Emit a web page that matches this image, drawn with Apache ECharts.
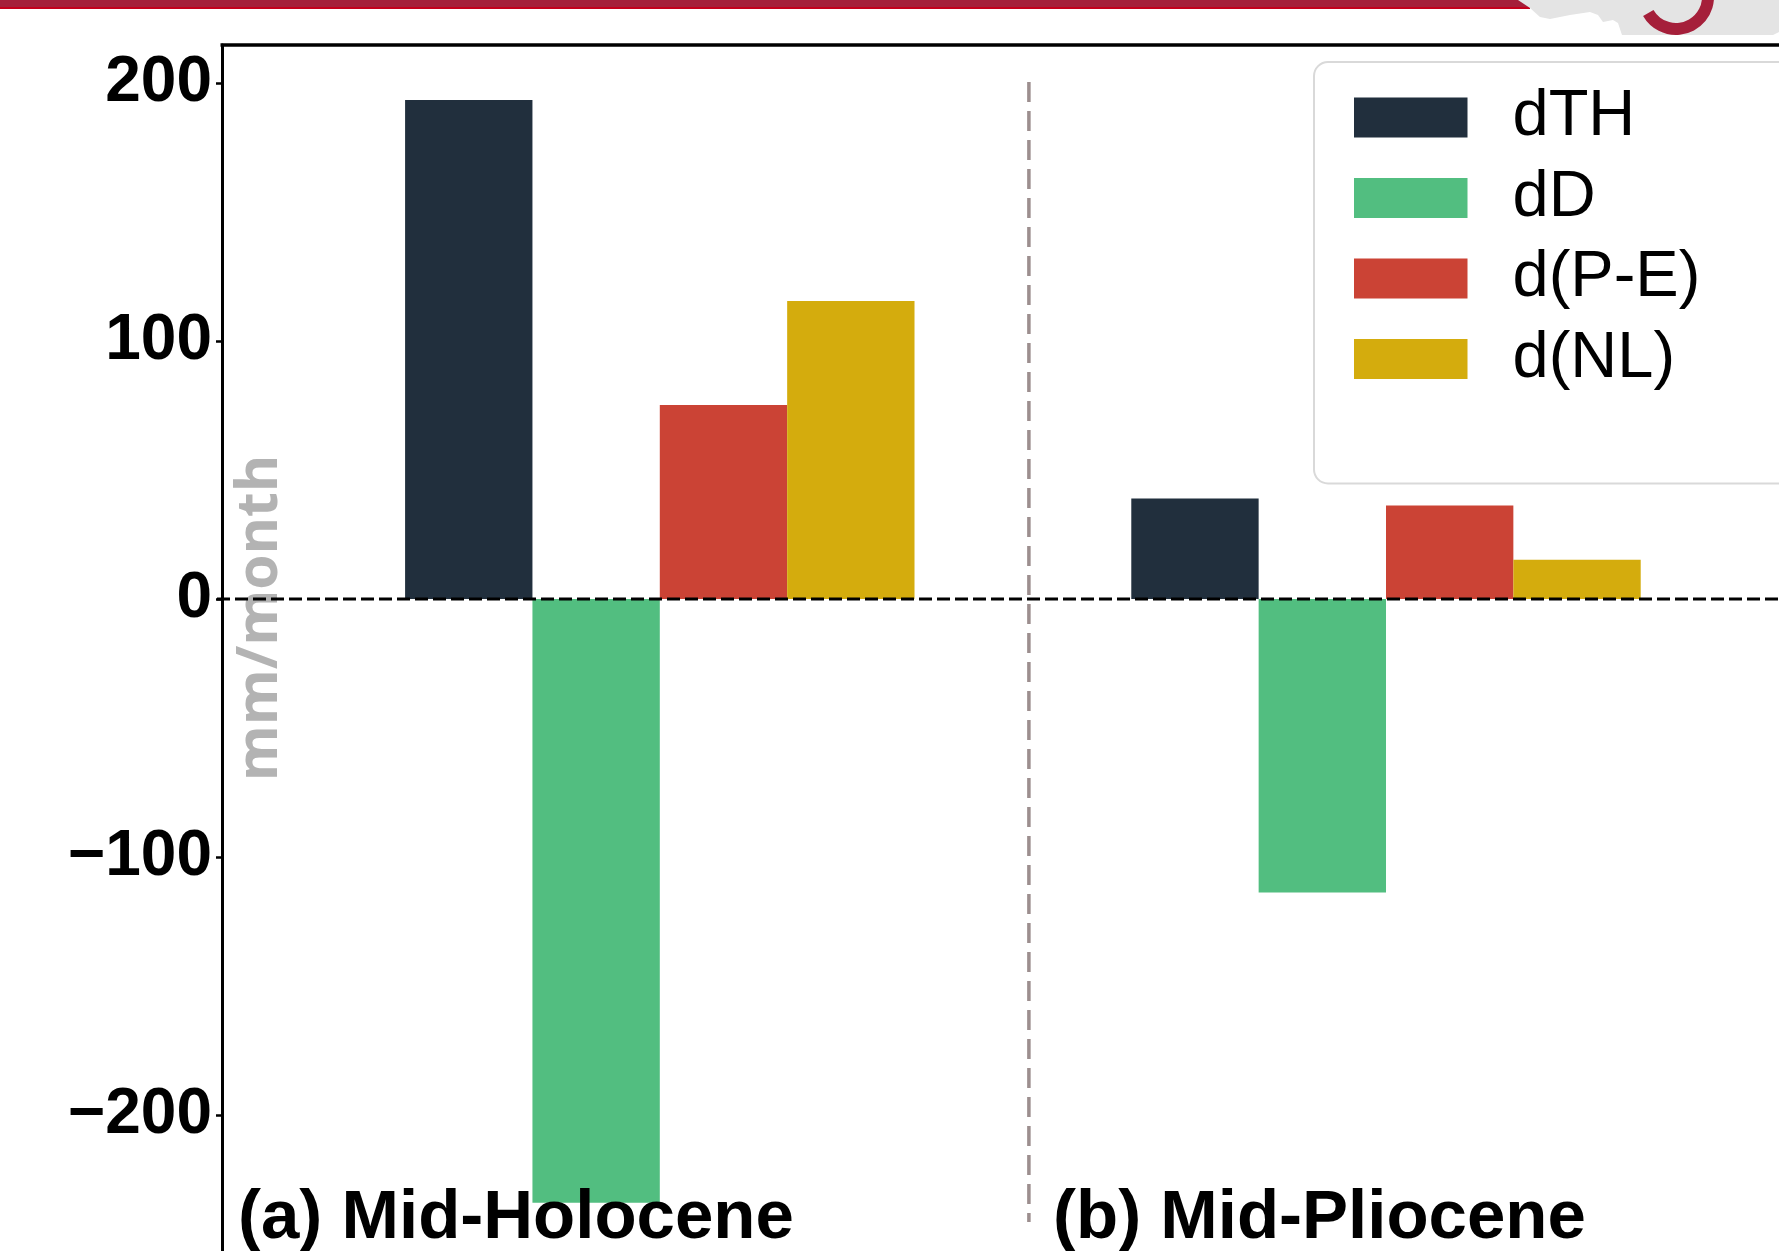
<!DOCTYPE html>
<html><head><meta charset="utf-8">
<script src="https://cdn.jsdelivr.net/npm/echarts@6/dist/echarts.min.js"></script>
<style>html,body{margin:0;padding:0;background:#fff;overflow:hidden}#c{width:1779px;height:1251px}</style>
</head><body><div id="c"></div>
<script>
// ---- data ----
const categories = ['(a) Mid-Holocene', '(b) Mid-Pliocene'];
const seriesNames = ['dTH', 'dD', 'd(P-E)', 'd(NL)'];
const dTH = [193.4, 38.9];
const dD = [-234.0, -113.8];
const dPE = [75.2, 36.2];
const dNL = [115.5, 15.2];
const yTicks = [-200, -100, 0, 100, 200];
const yMin = -252.7, yMax = 214.7;
const yName = 'mm/month';

const colors = ['#212F3D', '#52BE80', '#CB4335', '#D4AC0D'];
const seriesData = [dTH, dD, dPE, dNL];

const chart = echarts.init(document.getElementById('c'), null, {renderer: 'canvas'});
const GRID_LEFT = 296.7, AXIS_X = 222, GRID_TOP = 45;

chart.setOption({
  animation: false,
  backgroundColor: '#fff',
  grid: {left: GRID_LEFT, right: 29.9, top: GRID_TOP, bottom: 0, containLabel: false},
  xAxis: {
    type: 'category', data: categories,
    axisLine: {show: false}, axisTick: {show: false}, axisLabel: {show: false}, splitLine: {show: false}
  },
  yAxis: {
    type: 'value', min: yMin, max: yMax, offset: GRID_LEFT - AXIS_X,
    axisLine: {show: true, lineStyle: {color: '#000', width: 3}},
    axisTick: {show: true, length: 6, lineStyle: {color: '#000', width: 2.5}, customValues: yTicks},
    axisLabel: {
      customValues: yTicks, margin: 10, color: '#000', fontSize: 64, fontWeight: 'bold',
      fontFamily: '"Liberation Sans", Arial, sans-serif',
      formatter: v => (v < 0 ? '\u2212' + Math.abs(v) : String(v))
    },
    splitLine: {show: false}
  },
  legend: {
    data: seriesNames, orient: 'vertical', left: 1314, top: 62,
    itemWidth: 113.5, itemHeight: 40, itemGap: 15.5, icon: 'rect',
    padding: [23, 160, 92, 40],
    backgroundColor: '#fff', borderColor: '#d9d9d9', borderWidth: 2, borderRadius: 14,
    formatter: name => '{t|' + name + '}',
    textStyle: {
      color: '#000', fontSize: 64, fontFamily: '"Liberation Sans", Arial, sans-serif',
      rich: {t: {fontSize: 65, lineHeight: 64, padding: [0, 0, 0, 40], color: '#000',
                 fontFamily: '"Liberation Sans", Arial, sans-serif'}}
    },
    itemStyle: {borderWidth: 0}
  },
  series: seriesNames.map((n, i) => ({
    name: n, type: 'bar', data: seriesData[i],
    barGap: '0%', barCategoryGap: '29.85%',
    itemStyle: {color: colors[i]}, z: 2
  }))
});

const y0 = chart.convertToPixel({yAxisIndex: 0}, 0);
const cx0 = chart.convertToPixel({xAxisIndex: 0}, categories[0]);
const cx1 = chart.convertToPixel({xAxisIndex: 0}, categories[1]);
const divX = (cx0 + cx1) / 2 + 6;

chart.setOption({
  graphic: [
    // header decoration
    {type: 'rect', shape: {x: 0, y: 0, width: 1530, height: 8}, style: {fill: '#a51f3a'}, z: 1},
    {type: 'rect', shape: {x: 0, y: 7, width: 1530, height: 2}, style: {fill: '#c4001c'}, z: 1},
    {type: 'polygon', shape: {points: [[1518,0],[1530,8],[1540,17],[1550,19],[1570,15],[1590,12],[1598,15],[1603,22],[1613,20],[1618,23],[1622,35],[1773,35],[1779,32],[1779,0]]},
     style: {fill: '#e4e4e4'}, z: 2},
    {type: 'sector', shape: {cx: 1676, cy: -3, r0: 26, r: 38, startAngle: -0.1, endAngle: 5 * Math.PI / 6, clockwise: true},
     style: {fill: '#a51f3a'}, z: 3},
    // top spine
    {type: 'line', shape: {x1: AXIS_X - 1.5, y1: GRID_TOP, x2: 1779, y2: GRID_TOP}, style: {stroke: '#000', lineWidth: 3.5}, z: 20},
    // y-axis name
    {type: 'text', x: 261, y: 618, rotation: Math.PI / 2, z: 5,
     style: {text: yName, font: 'bold 57px "Open Sans", "Noto Sans", sans-serif', fill: '#b3b3b3', align: 'center', verticalAlign: 'middle'}},
    // zero line
    {type: 'line', shape: {x1: 217, y1: y0, x2: 1779, y2: y0}, style: {stroke: '#000', lineWidth: 3, lineDash: [13, 5]}, z: 30},
    // divider between panels
    {type: 'line', shape: {x1: divX, y1: 82, x2: divX, y2: 1222}, style: {stroke: '#9c8e8e', lineWidth: 3.5, lineDash: [20, 9]}, z: 30},
    // panel labels
    {type: 'text', x: 238, y: 1219, z: 30,
     style: {text: categories[0], font: 'bold 69px "Liberation Sans", Arial, sans-serif', fill: '#000', align: 'left', verticalAlign: 'middle'}},
    {type: 'text', x: 1053, y: 1219, z: 30,
     style: {text: categories[1], font: 'bold 69px "Liberation Sans", Arial, sans-serif', fill: '#000', align: 'left', verticalAlign: 'middle'}}
  ]
});
</script></body></html>
